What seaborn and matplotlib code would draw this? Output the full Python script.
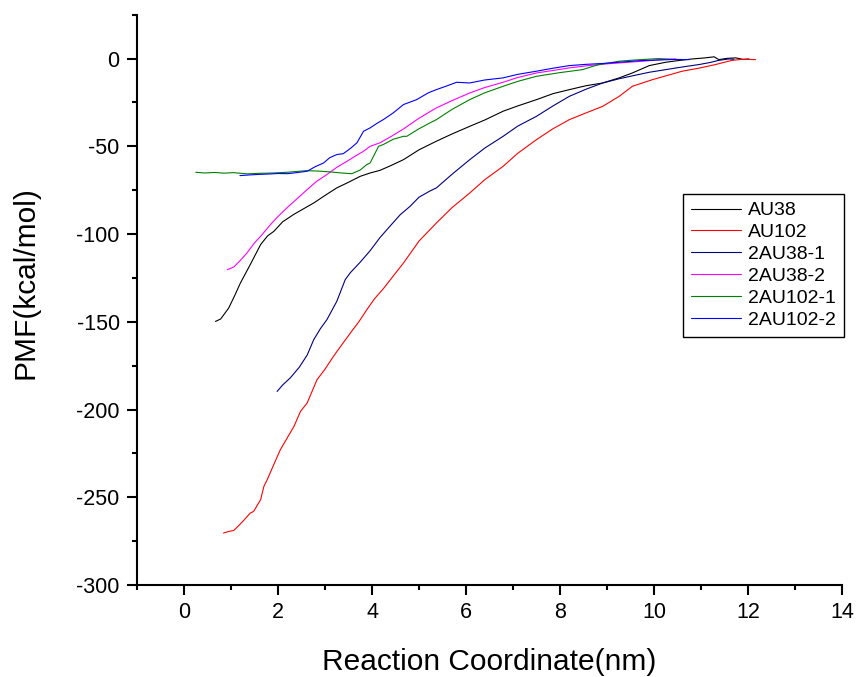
import matplotlib
matplotlib.use("Agg")
import matplotlib.pyplot as plt
import seaborn as sns
import pandas as pd
from matplotlib.ticker import MultipleLocator
from matplotlib.lines import Line2D

sns.set_style("ticks")
plt.rcParams['font.family'] = ['Liberation Sans', 'DejaVu Sans']
plt.rcParams['axes.unicode_minus'] = False
plt.rcParams['text.color'] = 'black'
plt.rcParams['axes.labelcolor'] = 'black'
plt.rcParams['xtick.color'] = 'black'
plt.rcParams['ytick.color'] = 'black'

labels = ["AU38", "AU102", "2AU38-1", "2AU38-2", "2AU102-1", "2AU102-2"]
colors = ["#000000", "#FF0000", "#000080", "#FF00FF", "#008000", "#0000FF"]

au38_x = [0.67, 0.78, 0.95, 1.08, 1.2, 1.41, 1.63, 1.78, 1.91, 2.1, 2.33, 2.55, 2.76, 3.0, 3.25, 3.5, 3.75, 3.96,
          4.17, 4.4, 4.67, 5.0, 5.37, 5.7, 6.08, 6.4, 6.79, 7.1, 7.5, 7.85, 8.2, 8.55, 8.91, 9.26, 9.54, 9.9, 10.25,
          10.5, 10.82, 11.05, 11.28, 11.38, 11.55, 11.74, 11.9, 12.02]
au38_y = [-149.8, -148.4, -142.2, -135, -127.9, -117.4, -106, -101, -98.5, -93, -88.9, -85.5, -82.3, -78, -73.7,
          -70.5, -67.1, -65.2, -63.7, -61, -57.6, -52, -47.1, -43, -38.6, -35, -30, -27, -23.4, -20, -17.7, -15.5,
          -13.9, -11, -8.2, -4, -2.1, -1.2, -0.2, 0.3, 1, -0.6, 0.1, 0.4, -0.5, -0.2]

au102_x = [0.84, 0.95, 1.06, 1.17, 1.27, 1.41, 1.48, 1.63, 1.7, 1.77, 1.9, 2.05, 2.2, 2.34, 2.48, 2.62, 2.83, 3.0,
           3.18, 3.36, 3.54, 3.72, 3.89, 4.05, 4.24, 4.45, 4.67, 5.0, 5.37, 5.7, 6.08, 6.4, 6.79, 7.1, 7.5, 7.85,
           8.2, 8.55, 8.91, 9.26, 9.54, 9.97, 10.3, 10.6, 10.95, 11.31, 11.66, 11.9, 12.16]
au102_y = [-270.4, -269.5, -268.9, -266, -263.2, -259, -258.1, -251.4, -243.8, -240, -232, -222.9, -216, -209.6,
           -201, -196.3, -183, -177, -169.7, -163, -156.4, -150, -143.1, -137, -131.2, -124, -116.5, -104, -93.7,
           -85, -76.6, -69, -61.4, -54, -46.2, -40, -34.8, -31, -27.2, -21.5, -15.8, -12, -9.5, -7.2, -5.5, -3.4,
           -1, -0.4, -0.6]

au38_1_x = [1.98, 2.1, 2.26, 2.45, 2.62, 2.76, 2.9, 3.04, 3.25, 3.43, 3.54, 3.75, 3.96, 4.17, 4.38, 4.6, 4.81, 5.0,
            5.23, 5.37, 5.7, 6.08, 6.4, 6.79, 7.1, 7.5, 7.85, 8.2, 8.55, 8.91, 9.26, 9.6, 9.9, 10.25, 10.6, 10.96,
            11.2, 11.38, 11.6, 11.7]
au38_1_y = [-189.7, -186, -182, -176, -169, -160.2, -154, -148.8, -138.4, -126, -122, -116, -109.5, -102, -95.6,
            -89, -84.2, -79, -75.5, -73.7, -66, -57.6, -51, -44.3, -38.5, -32.9, -27, -21.5, -17.5, -13.9, -11.5,
            -9.5, -7.8, -6.3, -4.8, -3.4, -2.2, -1, -0.2, -0.4]

au38_2_x = [0.92, 1.06, 1.2, 1.34, 1.5, 1.63, 1.84, 2.0, 2.19, 2.4, 2.62, 2.82, 3.04, 3.25, 3.47, 3.65, 3.82, 3.96,
            4.17, 4.4, 4.67, 5.0, 5.37, 5.7, 6.08, 6.4, 6.79, 7.1, 7.5, 7.85, 8.2, 8.6, 9.0, 9.26, 9.6, 9.9, 10.2,
            10.46]
au38_2_y = [-120.3, -118.8, -115, -110.8, -105, -101.3, -94.6, -90, -85.1, -80, -74.7, -70, -66.1, -62, -58.5,
            -55.5, -52.8, -50, -48, -44.5, -40.1, -34, -28.1, -24, -19.6, -16.5, -13.5, -10.8, -8.2, -6.8, -5.3,
            -4, -3, -2.5, -1.8, -1.2, -0.5, -0.2]

au102_1_x = [0.25, 0.45, 0.65, 0.85, 1.05, 1.34, 1.6, 1.9, 2.2, 2.45, 2.6, 2.85, 3.11, 3.35, 3.57, 3.75, 3.89, 3.96,
             4.14, 4.24, 4.45, 4.67, 4.74, 5.0, 5.23, 5.37, 5.7, 6.08, 6.4, 6.79, 7.1, 7.5, 8.0, 8.48, 8.7, 8.84,
             9.26, 9.6, 10.1, 10.46]
au102_1_y = [-64.8, -65.2, -64.9, -65.3, -65, -65.7, -65.4, -65.2, -64.8, -64.2, -63.9, -64.1, -64.6, -65.2, -65.6,
             -63.5, -60.4, -59.5, -50, -49, -46, -44.3, -44.3, -40, -36.7, -34.8, -29, -23.4, -19.5, -15.8, -13,
             -10.1, -8, -6.3, -4.4, -3.4, -1.5, -0.8, 0, -0.6]

au102_2_x = [1.19, 1.4, 1.6, 1.8, 2.0, 2.2, 2.4, 2.62, 2.8, 2.97, 3.1, 3.25, 3.39, 3.55, 3.68, 3.82, 3.96, 4.1, 4.24,
             4.45, 4.67, 4.95, 5.2, 5.37, 5.6, 5.8, 6.08, 6.4, 6.79, 7.1, 7.5, 7.85, 8.2, 8.55, 8.9, 9.3, 9.7, 10.1,
             10.45, 10.75]
au102_2_y = [-66.7, -66.3, -66, -65.8, -65.5, -65.6, -65, -64.2, -61.5, -59.5, -56.5, -54.7, -54.2, -51, -48, -41.4,
             -39.5, -37, -34.8, -31, -26.2, -23.4, -19.5, -17.7, -15.5, -13.5, -13.9, -12.2, -11, -9, -7.2, -5.5,
             -4, -3.3, -2.8, -2, -1.2, -0.8, -0.5, -0.6]

series = [(au38_x, au38_y), (au102_x, au102_y), (au38_1_x, au38_1_y),
          (au38_2_x, au38_2_y), (au102_1_x, au102_1_y), (au102_2_x, au102_2_y)]

frames = []
for lab, (xs, ys) in zip(labels, series):
    frames.append(pd.DataFrame({"x": xs, "y": ys, "series": lab}))
df = pd.concat(frames, ignore_index=True)

fig = plt.figure(figsize=(8.63, 6.77), dpi=100)
ax = fig.add_axes([137 / 863, 1 - 585 / 677, (842 - 137) / 863, (585 - 14.7) / 677])

sns.lineplot(data=df, x="x", y="y", hue="series", hue_order=labels, palette=colors,
             sort=False, estimator=None, units="series", linewidth=0.8, ax=ax, legend=False)

ax.set_xlim(-1, 14)
ax.set_ylim(-300, 25)
ax.xaxis.set_major_locator(MultipleLocator(2))
ax.xaxis.set_minor_locator(MultipleLocator(1))
ax.yaxis.set_major_locator(MultipleLocator(50))
ax.yaxis.set_minor_locator(MultipleLocator(25))
ax.tick_params(which="major", direction="out", length=7.5, width=1.5, labelsize=15.5, pad=5, colors="black")
ax.tick_params(which="minor", direction="out", length=3.8, width=1.5, colors="black")

for s in ["top", "right"]:
    ax.spines[s].set_visible(False)
for s in ["left", "bottom"]:
    ax.spines[s].set_linewidth(1.5)
    ax.spines[s].set_color("black")

ax.set_xlabel("Reaction Coordinate(nm)", fontsize=21.5, labelpad=18, color="black")
ax.set_ylabel("PMF(kcal/mol)", fontsize=21.5, color="black")
ax.yaxis.set_label_coords(-0.139, 0.53)

handles = [Line2D([0], [0], color=c, lw=0.8) for c in colors]
leg = ax.legend(handles, labels, loc="upper left", bbox_to_anchor=(683 / 863, 1 - 194 / 677),
                bbox_transform=fig.transFigure, borderaxespad=0, fontsize=14, frameon=True, fancybox=False,
                edgecolor="black", framealpha=1, handlelength=2.6, handletextpad=0.35, labelspacing=0.22,
                borderpad=0.4)
leg.get_frame().set_linewidth(1.0)
for t in leg.get_texts():
    t.set_color("black")

fig.savefig("out.png", dpi=100)
